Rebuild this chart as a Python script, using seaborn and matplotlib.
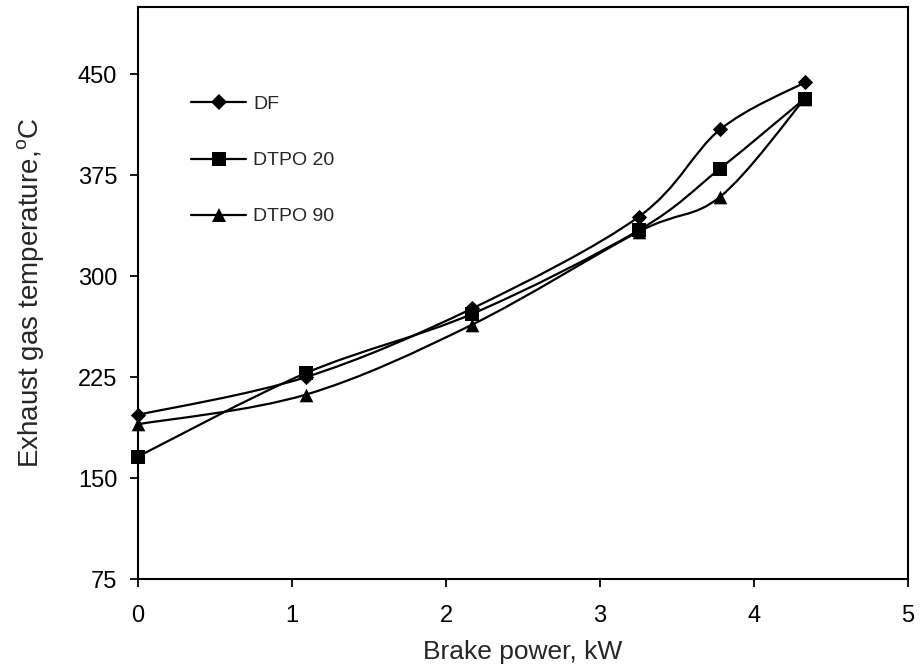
import numpy as np
import matplotlib
matplotlib.use("Agg")
import matplotlib.pyplot as plt
from matplotlib.path import Path
from matplotlib.patches import PathPatch
from matplotlib.lines import Line2D
import seaborn as sns
import pandas as pd

brake_power = [0.0, 1.09, 2.17, 3.25, 3.78, 4.33]
df_vals = [197, 225, 276, 344, 409, 444]
dtpo20_vals = [166, 228, 272, 334, 380, 432]
dtpo90_vals = [190, 212, 264, 333, 359, 432]
series_names = ["DF", "DTPO 20", "DTPO 90"]
x_ticks = [0, 1, 2, 3, 4, 5]
y_ticks = [75, 150, 225, 300, 375, 450]

sns.set_style("ticks")
plt.rcParams["font.family"] = ["Liberation Sans", "DejaVu Sans"]

fig = plt.figure(figsize=(9.22, 6.70), dpi=100)
ax = fig.add_axes([138/922, (670-579)/670, (908-138)/922, (579-7)/670])

def smooth_path(xs, ys):
    pts = np.column_stack([xs, ys]).astype(float)
    n = len(pts)
    verts = [pts[0]]
    codes = [Path.MOVETO]
    for i in range(n - 1):
        p0 = pts[i - 1] if i > 0 else pts[i]
        p1 = pts[i]
        p2 = pts[i + 1]
        p3 = pts[i + 2] if i + 2 < n else pts[i + 1]
        c1 = p1 + (p2 - p0) / 6.0
        c2 = p2 - (p3 - p1) / 6.0
        verts += [c1, c2, p2]
        codes += [Path.CURVE4] * 3
    return Path(verts, codes)

markers = {"DF": "D", "DTPO 20": "s", "DTPO 90": "^"}
msizes = {"DF": 7.8, "DTPO 20": 9.8, "DTPO 90": 9.8}
data = {"DF": df_vals, "DTPO 20": dtpo20_vals, "DTPO 90": dtpo90_vals}

for name in series_names:
    ys = data[name]
    ax.add_patch(PathPatch(smooth_path(brake_power, ys), facecolor="none",
                           edgecolor="black", lw=1.6, zorder=2))
    frame = pd.DataFrame({"x": brake_power, "y": ys})
    sns.scatterplot(data=frame, x="x", y="y", marker=markers[name], color="black",
                    s=msizes[name] ** 2, edgecolor="black", linewidth=0,
                    ax=ax, zorder=3, legend=False, clip_on=False)

handles = [Line2D([], [], color="black", lw=1.6, marker=markers[n],
                  markersize=msizes[n], markeredgewidth=0) for n in series_names]
ax.legend(handles, series_names, loc="upper left", bbox_to_anchor=(0.069, 0.845),
          frameon=False, borderpad=0, borderaxespad=0, handlelength=2.83,
          handletextpad=0.36, labelspacing=1.98, fontsize=14)

ax.set_xlim(0, 5)
ax.set_ylim(75, 500)
ax.set_xticks(x_ticks)
ax.set_yticks(y_ticks)
ax.tick_params(axis="both", direction="out", length=6, width=1.3, colors="black",
               labelsize=17)
ax.tick_params(axis="x", pad=13)
ax.tick_params(axis="y", pad=9)
for sp in ax.spines.values():
    sp.set_visible(True)
    sp.set_color("black")
    sp.set_linewidth(1.5)
ax.set_xlabel("Brake power, kW", fontsize=19, labelpad=9)
ax.set_ylabel("Exhaust gas temperature,$^{\\mathregular{o}}$C", fontsize=20, labelpad=22)

fig.savefig("out.png", dpi=100)
